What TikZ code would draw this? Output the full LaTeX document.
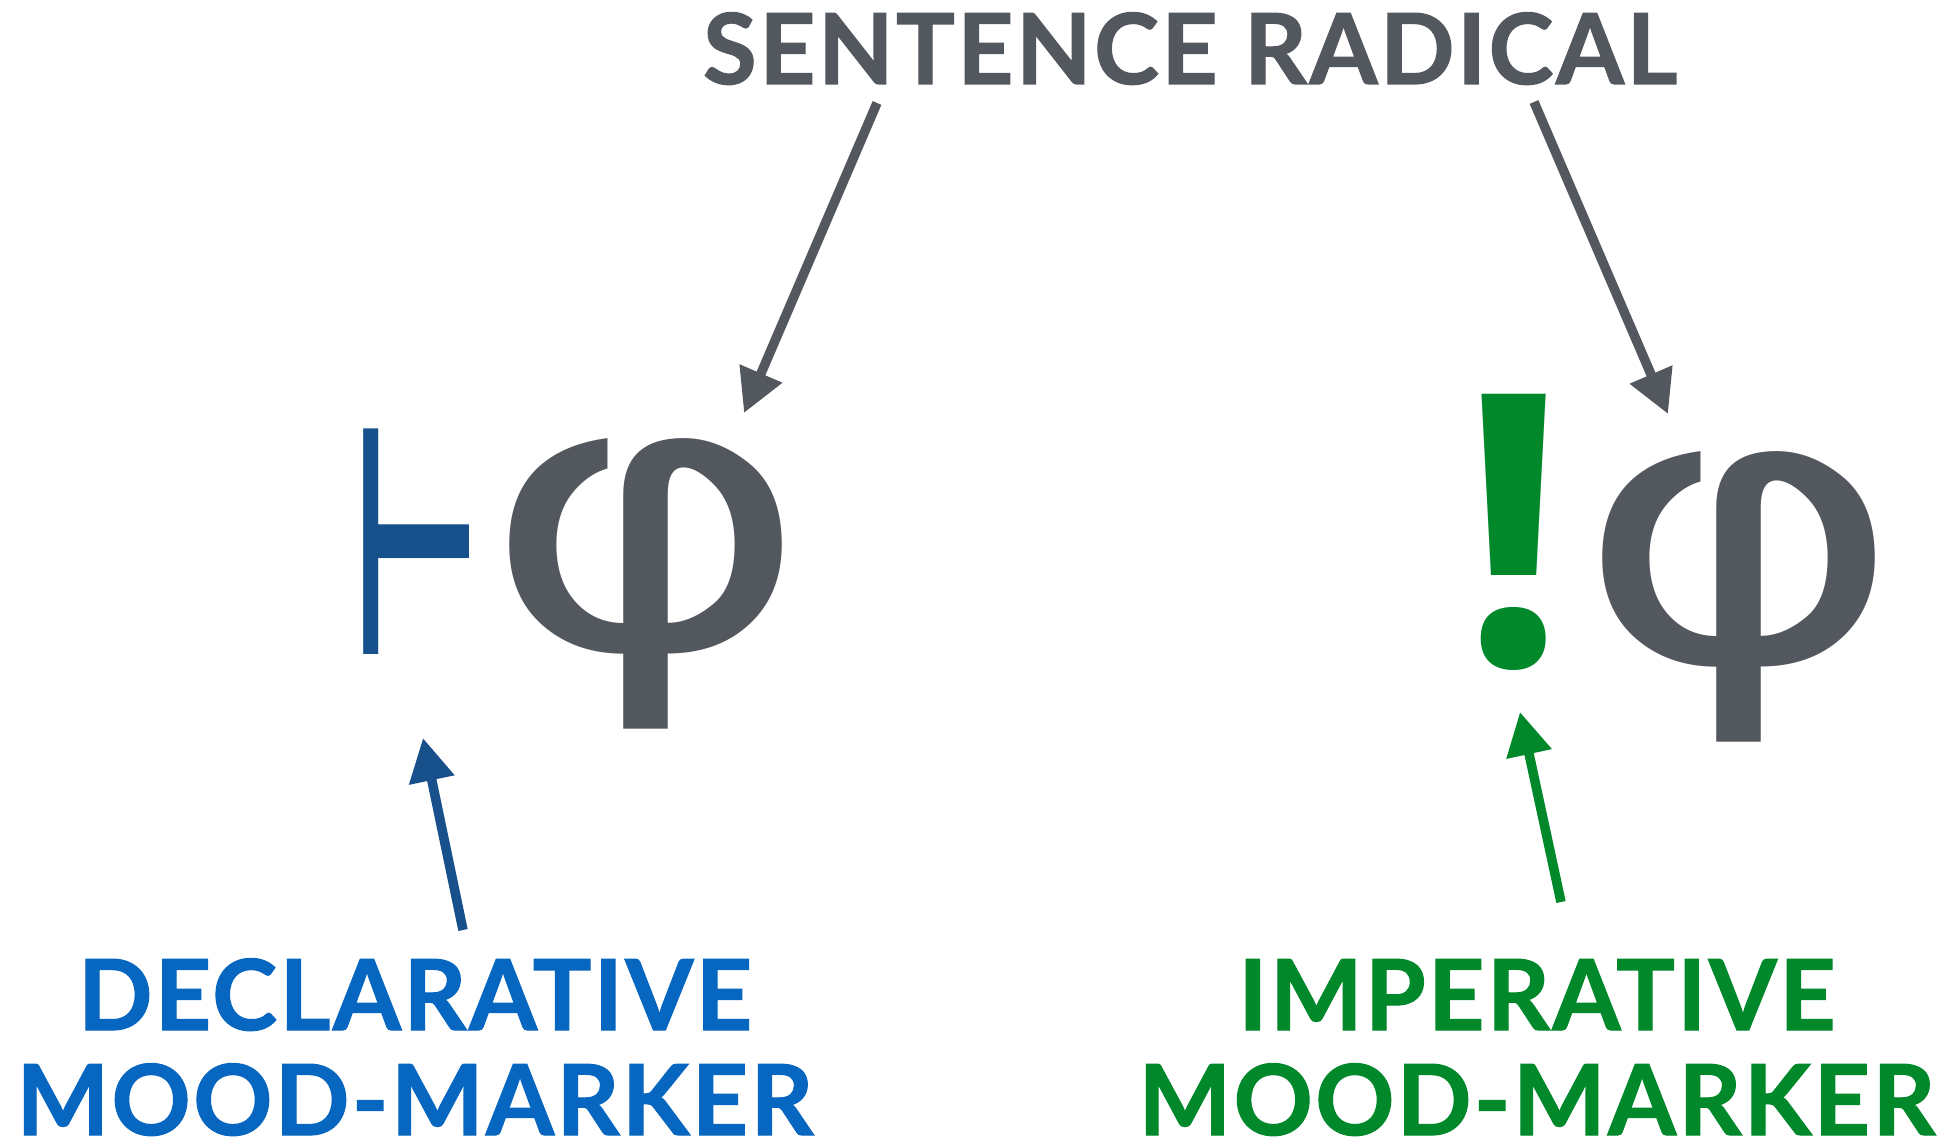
\documentclass[tikz,border=0pt]{standalone}
\usepackage{fontspec}
\setmainfont{Lato}[LetterSpace=2.5,BoldFeatures={FakeBold=1.2}]
\newfontfamily\greekfont{DejaVu Sans}
\newfontfamily\bangfont{Open Sans}
\newfontfamily\symfont{DejaVu Sans}
\usetikzlibrary{arrows.meta,positioning,calc}
\definecolor{radgray}{HTML}{53575E}
\definecolor{markblue}{HTML}{17508A}
\definecolor{declblue}{HTML}{0766C0}
\definecolor{impgreen}{HTML}{00882B}

\begin{document}
\begin{tikzpicture}[x=1pt,y=-1pt,lbl/.style={inner sep=0,align=center,font=\fontsize{98}{105}\selectfont\bfseries},glyph/.style={inner sep=0,anchor=base},arr/.style={-{Triangle[length=43pt,width=44pt]},line width=9.5pt}]
\useasboundingbox (0,0) rectangle (1944,1139);
\node[lbl, text=radgray, anchor=base] (radical) at (1190,84){SENTENCE RADICAL};
\node[lbl, text=declblue, anchor=south] (decl) at (415,1136){DECLARATIVE\\MOOD-MARKER};
\node[lbl, text=impgreen, anchor=south] (imp) at (1537,1136){IMPERATIVE\\MOOD-MARKER};
% the two formulas
\node[glyph, text=markblue, font=\symfont\bfseries\fontsize{320}{320}\selectfont, xscale=0.445] (assert) at (416.5,654){⊢};
\node[glyph, text=radgray, font=\greekfont\fontsize{383}{383}\selectfont, xscale=1.3] (phiL) at (646.5,649){φ};
\node[glyph, text=impgreen, font=\bangfont\bfseries\fontsize{380}{380}\selectfont] (bang) at (1514,665){!};
\node[glyph, text=radgray, font=\greekfont\fontsize{383}{383}\selectfont, xscale=1.3] (phiR) at (1739.5,662){φ};
% arrow ends
\coordinate (radL) at (877,103);\coordinate (radR) at (1534,102);
\coordinate (phiLtop) at (744,413);\coordinate (phiRtop) at (1668,414);
\coordinate (declTop) at (463,930);\coordinate (assertFoot) at (423,738);
\coordinate (impTop) at (1561,902);\coordinate (bangFoot) at (1520,712);
\draw[arr, radgray] (radL) -- (phiLtop);\draw[arr, radgray] (radR) -- (phiRtop);
\draw[arr, markblue] (declTop) -- (assertFoot);\draw[arr, impgreen] (impTop) -- (bangFoot);
\end{tikzpicture}
\end{document}
